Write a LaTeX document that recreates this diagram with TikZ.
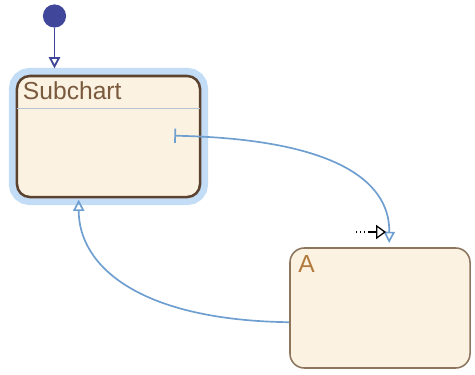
\documentclass[tikz,border=0pt]{standalone}
\usepackage{fontspec}
\setmainfont{Liberation Sans}
\usetikzlibrary{arrows.meta,positioning,calc}
\definecolor{statefill}{HTML}{FBF2E2}
\definecolor{subedge}{HTML}{5C4330}
\definecolor{aedge}{HTML}{8C765E}
\definecolor{selcol}{HTML}{C4DDF7}
\definecolor{transcol}{HTML}{6E9FD0}
\definecolor{initcol}{HTML}{40479A}
\definecolor{labelcol}{HTML}{7A5A3C}
\definecolor{alabcol}{HTML}{B27A3C}
\definecolor{rulecol}{HTML}{B6C4D2}

\tikzset{
  statebox/.style={draw, fill=statefill, rounded corners=0.32cm, inner sep=0pt},
  statelabel/.style={anchor=base west, font=\fontsize{17.5}{20}\selectfont, inner sep=0pt},
  trans/.style={draw=transcol, line width=1.2pt},
  opentip/.style={-{Triangle[open, length=8pt, width=8pt]}},
}

\begin{document}
\begin{tikzpicture}[x=0.025cm, y=-0.025cm]
\useasboundingbox (0,0) rectangle (475,375);

% ---------------------------------------------------------------- states
\node[statebox, draw=subedge, line width=1.8pt,
      preaction={draw=selcol, line width=11.5pt},
      minimum width=4.575cm, minimum height=3.025cm] (sub) at (108.5,136.5) {};
\draw[rulecol, line width=0.7pt] ($(sub.north west)+(1,34)$) -- ($(sub.north east)+(-1,34)$);
\node[statelabel, text=labelcol] (sublab) at ($(sub.north west)+(7,25)$) {Subchart};

\node[statebox, draw=aedge, line width=1.1pt, rounded corners=0.36cm,
      minimum width=4.5cm, minimum height=3cm] (A) at (380,308) {};
\node[statelabel, text=alabcol] (alab) at ($(A.north west)+(9,25)$) {A};

% ------------------------------------------------------- default transition
\node[circle, fill=initcol, minimum size=0.58cm, inner sep=0pt] (init) at (54.5,16) {};
\draw[initcol, line width=1.3pt, opentip, shorten >=4.5pt] (init.south) -- (init.south |- sub.north);

% ------------------------------------------------------------ transitions
\coordinate (subOut) at ($(sub.north east)+(-27,61)$);
\coordinate (aIn) at ($(A.north west)!0.55!(A.north east)$);
\draw[trans, {Bar[width=10pt]}-{Triangle[open, length=8pt, width=8pt]}, shorten >=3pt]
  (subOut) .. controls ($(subOut)+(157,3)$) and ($(aIn)+(1,-68)$) .. (aIn);

\coordinate (aOut) at ($(A.north west)+(0,75)$);
\coordinate (subIn) at ($(sub.south west)+(63,0)$);
\draw[trans, opentip, shorten >=1pt]
  (aOut) .. controls ($(aOut)+(-150,-2)$) and ($(subIn)+(0,68)$) .. (subIn);

% ------------------------------------------------------------ drag cursor
\coordinate (curTail) at (356,232);
\coordinate (curTip) at (386,232);
\draw[black, line width=0.9pt, dotted] (curTail) -- ($(curTail)+(14,0)$);
\draw[black, line width=0.9pt, -{Triangle[open, length=7pt, width=10pt]}]
  ($(curTail)+(14,0)$) -- (curTip);

\end{tikzpicture}
\end{document}
